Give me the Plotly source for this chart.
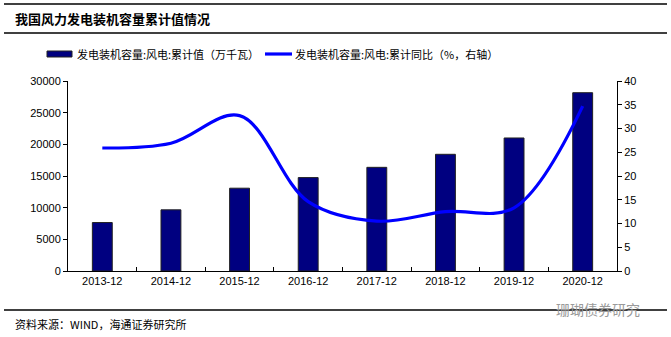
import plotly.graph_objects as go

# 风电累计装机容量（万千瓦）及累计同比（%）
years = ["2013-12", "2014-12", "2015-12", "2016-12", "2017-12", "2018-12", "2019-12", "2020-12"]
capacity = [7652, 9657, 13075, 14747, 16367, 18426, 21005, 28153]
yoy = [25.9, 26.9, 32.7, 14.6, 10.5, 12.5, 13.3, 34.7]
bar_name = "发电装机容量:风电:累计值（万千瓦）"
line_name = "发电装机容量:风电:累计同比（%，右轴）"

cjk = "Noto Sans CJK SC"
latin = "Liberation Sans"
bar_color = "#000080"
line_color = "#0000FF"

# 绘图区像素位置，用于换算 paper 坐标
L, R, T, B = 68, 617, 81, 271


def px(x):
    return (x - L) / (R - L)


def py(y):
    return (B - y) / (B - T)


fig = go.Figure()
fig.add_trace(go.Bar(
    x=years, y=capacity, name=bar_name,
    marker=dict(color=bar_color, line=dict(color="#222222", width=1)),
    width=0.29, yaxis="y",
))
fig.add_trace(go.Scatter(
    x=years, y=yoy, name=line_name,
    mode="lines", line=dict(color=line_color, width=3.2, shape="spline", smoothing=1.0),
    yaxis="y2",
))

fig.update_layout(
    width=671, height=337,
    margin=dict(l=L, r=671 - R, t=T, b=337 - B),
    plot_bgcolor="white", paper_bgcolor="white",
    showlegend=False,
    xaxis=dict(
        type="category", range=[-0.5, 7.5],
        showline=True, linecolor="#000000", linewidth=1,
        ticks="inside", ticklen=4, tickcolor="#000000", tickson="boundaries",
        tickfont=dict(family=latin, size=11, color="#000000"),
        showgrid=False, zeroline=False,
    ),
    yaxis=dict(
        range=[0, 30000], dtick=5000, tickformat="d",
        showline=True, linecolor="#000000", linewidth=1,
        ticks="outside", ticklen=4, tickcolor="#000000",
        tickfont=dict(family=latin, size=11, color="#000000"),
        showgrid=False, zeroline=False,
    ),
    yaxis2=dict(
        range=[0, 40], dtick=5, overlaying="y", side="right",
        showline=True, linecolor="#000000", linewidth=1,
        ticks="outside", ticklen=4, tickcolor="#000000",
        tickfont=dict(family=latin, size=11, color="#000000"),
        showgrid=False, zeroline=False,
    ),
)

# 图例：柱形色块与线段
fig.add_shape(
    type="rect", xref="paper", yref="paper",
    x0=px(47), x1=px(72), y0=py(57), y1=py(51),
    fillcolor=bar_color, line=dict(color="#222222", width=1),
)
fig.add_annotation(
    text=bar_name, xref="paper", yref="paper",
    x=px(75), y=py(54), xanchor="left", yanchor="middle",
    showarrow=False, font=dict(family=cjk, size=11, color="#000000"),
)
fig.add_shape(
    type="line", xref="paper", yref="paper",
    x0=px(265), x1=px(292), y0=py(54), y1=py(54),
    line=dict(color=line_color, width=3.2),
)
fig.add_annotation(
    text=line_name, xref="paper", yref="paper",
    x=px(293), y=py(54), xanchor="left", yanchor="middle",
    showarrow=False, font=dict(family=cjk, size=11, color="#000000"),
)

# 标题、分隔线与资料来源
fig.add_annotation(
    text="<b>我国风力发电装机容量累计值情况</b>", xref="paper", yref="paper",
    x=px(13), y=py(18), xanchor="left", yanchor="middle",
    showarrow=False, font=dict(family=cjk, size=13, color="#000000"),
)
for ypix in (4, 33, 310):
    fig.add_shape(
        type="line", xref="paper", yref="paper",
        x0=px(4), x1=px(667), y0=py(ypix), y1=py(ypix),
        line=dict(color="#000000", width=1.3),
    )
fig.add_annotation(
    text="资料来源：WIND，海通证券研究所", xref="paper", yref="paper",
    x=px(13), y=py(324), xanchor="left", yanchor="middle",
    showarrow=False, font=dict(family=cjk, size=11, color="#000000"),
)
fig.add_annotation(
    text="珊瑚债券研究", xref="paper", yref="paper",
    x=px(642), y=py(309), xanchor="right", yanchor="middle",
    showarrow=False, font=dict(family=cjk, size=14, color="#9a9a9a"),
)

fig.write_html("out.html")
